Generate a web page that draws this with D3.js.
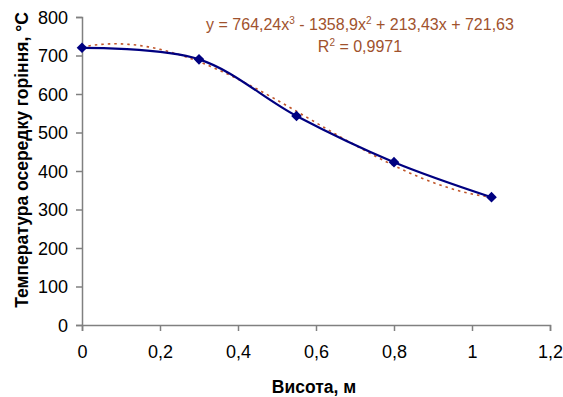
<!DOCTYPE html>
<html>
<head>
<meta charset="utf-8">
<script src="https://cdn.jsdelivr.net/npm/d3@7"></script>
<style>
  body { margin: 0; background: #fff; }
  text { font-family: Arial, "Liberation Sans", sans-serif; }
</style>
</head>
<body>
<div id="chart"></div>
<script>
// measured points
const heights = [0, 0.3, 0.55, 0.8, 1.05];
const temps = [720, 690, 543, 423, 332];
// polynomial trendline, coefficients as printed on the chart (x^3, x^2, x, 1)
const trendCoef = [764.24, -1358.9, 213.43, 721.63];
const xTicks = [0, 0.2, 0.4, 0.6, 0.8, 1, 1.2];
const yTicks = [0, 100, 200, 300, 400, 500, 600, 700, 800];

const width = 563, height = 397;
const margin = { top: 17, right: 13, bottom: 72, left: 82 };

const svg = d3.select("#chart").append("svg")
  .attr("width", width)
  .attr("height", height);

const x = d3.scaleLinear().domain([0, 1.2]).range([margin.left, width - margin.right]);
const y = d3.scaleLinear().domain([0, 800]).range([height - margin.bottom, margin.top]);

const fmt = d => String(d).replace(".", ",");

// axes
const xAxis = svg.append("g")
  .attr("transform", `translate(0,${y(0)})`)
  .call(d3.axisBottom(x).tickValues(xTicks).tickFormat(fmt).tickSize(6).tickPadding(14));
const yAxis = svg.append("g")
  .attr("transform", `translate(${x(0)},0)`)
  .call(d3.axisLeft(y).tickValues(yTicks).tickSize(6).tickPadding(8));

[xAxis, yAxis].forEach(a => {
  a.select(".domain").attr("stroke", "#808080").attr("stroke-width", 1.5);
  a.selectAll(".tick line").attr("stroke", "#808080").attr("stroke-width", 1.5);
  a.selectAll(".tick text").attr("font-size", 18).attr("fill", "#000")
    .attr("font-family", "Arial, 'Liberation Sans', sans-serif");
});
yAxis.selectAll(".tick text").attr("dy", "0.36em");

// trendline (dotted)
const poly = t => trendCoef[0] * t * t * t + trendCoef[1] * t * t + trendCoef[2] * t + trendCoef[3];
const trendX = d3.range(0, 1.0501, 0.01);
svg.append("path")
  .datum(trendX)
  .attr("fill", "none")
  .attr("stroke", "#c0562a")
  .attr("stroke-width", 1.6)
  .attr("stroke-dasharray", "2.5,4")
  .attr("d", d3.line().x(d => x(d)).y(d => y(poly(d))));

// data line, smoothed
const pts = heights.map((h, i) => [h, temps[i]]);
svg.append("path")
  .datum(pts)
  .attr("fill", "none")
  .attr("stroke", "#000080")
  .attr("stroke-width", 2.2)
  .attr("d", d3.line().x(d => x(d[0])).y(d => y(d[1])).curve(d3.curveCatmullRom.alpha(0.5)));

svg.selectAll(".pt")
  .data(pts)
  .enter().append("path")
  .attr("class", "pt")
  .attr("transform", d => `translate(${x(d[0])},${y(d[1])})`)
  .attr("d", d3.symbol(d3.symbolDiamond2, 72)())
  .attr("fill", "#000080");

// equation text
const eq = svg.append("text")
  .attr("x", 360).attr("y", 30)
  .attr("text-anchor", "middle")
  .attr("font-size", 16)
  .attr("fill", "#a0522d");
eq.append("tspan").text("y = 764,24x");
eq.append("tspan").attr("dy", -6).attr("font-size", 10).text("3");
eq.append("tspan").attr("dy", 6).text(" - 1358,9x");
eq.append("tspan").attr("dy", -6).attr("font-size", 10).text("2");
eq.append("tspan").attr("dy", 6).text(" + 213,43x + 721,63");

const r2 = svg.append("text")
  .attr("x", 360).attr("y", 52)
  .attr("text-anchor", "middle")
  .attr("font-size", 16)
  .attr("fill", "#a0522d");
r2.append("tspan").text("R");
r2.append("tspan").attr("dy", -6).attr("font-size", 10).text("2");
r2.append("tspan").attr("dy", 6).text(" = 0,9971");

// axis titles
svg.append("text")
  .attr("x", 314).attr("y", 393)
  .attr("text-anchor", "middle")
  .attr("font-size", 17.5).attr("font-weight", "bold")
  .text("Висота, м");

svg.append("text")
  .attr("transform", "translate(28,160) rotate(-90)")
  .attr("text-anchor", "middle")
  .attr("font-size", 17.5).attr("font-weight", "bold")
  .text("Температура осередку горіння, °С");
</script>
</body>
</html>
